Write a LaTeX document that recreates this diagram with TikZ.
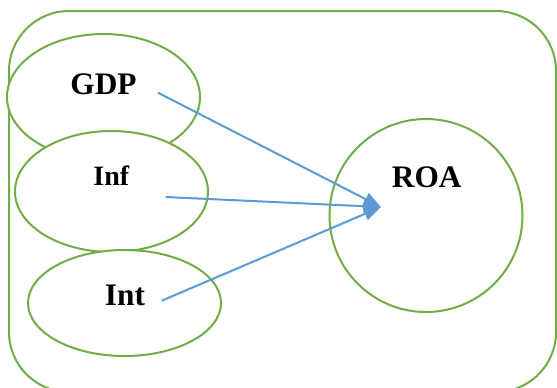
\documentclass[tikz,border=0pt]{standalone}
\usepackage{fontspec}
\setmainfont{Liberation Serif}
\usetikzlibrary{arrows.meta,shapes.geometric}
\definecolor{grn}{HTML}{70AD47}
\definecolor{blu}{HTML}{5B9BD5}
\tikzset{
  oval/.style={ellipse,draw=grn,line width=1.5pt,fill=white,inner sep=0pt},
  lbl/.style={anchor=base,font=\bfseries\fontsize{23.5}{26}\selectfont,inner sep=0pt},
  conn/.style={draw=blu,line width=1.5pt,-{Triangle[length=13pt,width=10pt]}}
}
\begin{document}
\begin{tikzpicture}[x=0.75pt,y=-0.75pt]
\useasboundingbox (0,0) rectangle (557,387);
\clip (0,0) rectangle (557,387);
\draw[grn,line width=1.5pt,rounded corners=45pt] (9,11) rectangle (556,392);
\node[oval,minimum width=144.75pt,minimum height=94.5pt] (gdpE) at (103.5,97) {};
\node[oval,minimum width=144.75pt,minimum height=90.75pt] (infE) at (111.5,191.5) {};
\node[oval,minimum width=144.75pt,minimum height=79.5pt] (intE) at (124.5,303) {};
\node[circle,draw=grn,line width=1.5pt,fill=white,minimum size=144.75pt,inner sep=0pt] (roaE) at (426,215.5) {};
\node[lbl] (gdp) at (103.5,94) {GDP};
\node[lbl,font=\bfseries\fontsize{21}{24}\selectfont] (inf) at (111.3,185.7) {Inf};
\node[lbl] (int) at (125,305) {Int};
\node[lbl] (roa) at (426.7,187.3) {ROA};
\coordinate (s1) at (158,92.7);
\coordinate (s2) at (165.7,197);
\coordinate (s3) at (161.7,300.7);
\coordinate (tip) at (381,207);
\draw[conn] (s1) -- (tip);
\draw[conn] (s2) -- (tip);
\draw[conn] (s3) -- (tip);
\end{tikzpicture}
\end{document}
